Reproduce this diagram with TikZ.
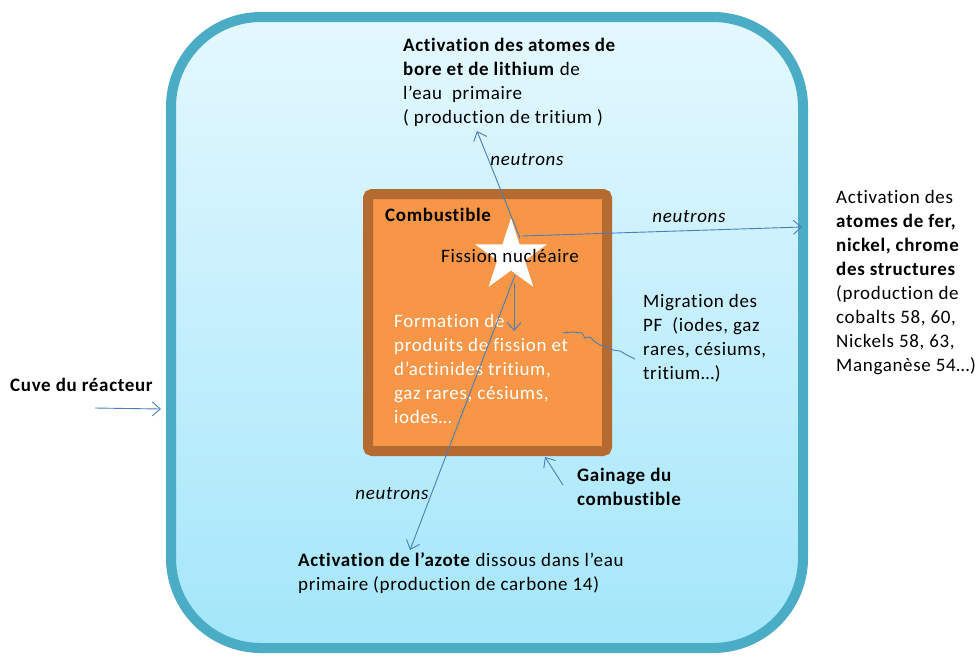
\documentclass[tikz,border=0pt]{standalone}
\usepackage{fontspec}
\setmainfont{Carlito}[Ligatures=NoCommon,LetterSpace=3.5]
\usetikzlibrary{arrows.meta,shapes.geometric}
\definecolor{cuveline}{HTML}{4BACC6}
\definecolor{cuvetop}{HTML}{E4F8FE}
\definecolor{cuvebot}{HTML}{A3E6FA}
\definecolor{gainecol}{HTML}{B46A30}
\definecolor{combust}{HTML}{F79646}
\definecolor{raycol}{HTML}{4A7EBB}
\tikzstyle{txt} = [align=left,anchor=north west,inner sep=0pt,font=\fontsize{19}{24}\selectfont]
\tikzstyle{txtb} = [txt,font=\fontsize{19}{24}\selectfont\bfseries]
\tikzstyle{neutron} = [inner sep=0pt,font=\fontsize{19}{24}\selectfont\itshape]
\tikzstyle{flux} = [draw=raycol,line width=0.9pt,-{Straight Barb[length=8pt,width=14pt]}]

\begin{document}
\begin{tikzpicture}[x=1pt,y=-1pt]
\useasboundingbox (0,0) rectangle (976,657);
% cuve du reacteur
\fill[black!30,opacity=0.5,rounded corners=90pt] (174,21) rectangle (806,652);
\draw[cuveline,line width=10pt,top color=cuvetop,bottom color=cuvebot,rounded corners=90pt] (171,17) rectangle (803,648);
% gaine et combustible
\node (gaine) [draw=gainecol,fill=combust,line width=10pt,rounded corners=4pt,minimum width=239pt,minimum height=257pt,inner sep=0pt,anchor=north west] at (363,189) {};
\node (star) [star,star points=5,star point ratio=2.618,fill=white,minimum size=76pt,inner sep=0pt] at (511,256) {};
\node (fission) [inner sep=0pt,font=\fontsize{19}{24}\selectfont] at (510,256) {Fission nucléaire};
\node (combustible) [txtb] at (385,208) {Combustible};
\node (formation) [txt,text=white] at (394,314) {Formation de\\produits de fission et\\d’actinides tritium,\\gaz rares, césiums,\\iodes…};
% textes
\node (bore) [txt] at (403,38) {\textbf{Activation des atomes de}\\\textbf{bore et de lithium} de\\l’eau\ \ primaire\\( production de tritium )};
\node (fer) [txt] at (836,190) {Activation des\\\textbf{atomes de fer,}\\\textbf{nickel, chrome}\\\textbf{des structures}\\(production de\\cobalts 58, 60,\\Nickels 58, 63,\\Manganèse 54…)};
\node (cuve) [txtb] at (10,378) {Cuve du réacteur};
\node (migration) [txt] at (643,294) {Migration des\\PF\ \ (iodes, gaz\\rares, césiums,\\tritium…)};
\node (gainage) [txtb] at (577,468) {Gainage du\\combustible};
\node (azote) [txt] at (298,552) {\textbf{Activation de l’azote} dissous dans l’eau\\primaire (production de carbone 14)};
\node (n1) [neutron] at (527,160) {neutrons};
\node (n2) [neutron] at (689,217) {neutrons};
\node (n3) [neutron] at (392,494) {neutrons};
% fleches
\coordinate (upA) at (520,238);
\coordinate (upB) at (477,131);
\coordinate (rightA) at (522,236);
\coordinate (rightB) at (802,227);
\coordinate (downA) at (515,275);
\coordinate (downB) at (410,550);
\coordinate (pfA) at (514,283);
\coordinate (pfB) at (514,331);
\coordinate (cuveA) at (95,408);
\coordinate (cuveB) at (161,409);
\coordinate (gainA) at (563,485);
\coordinate (gainB) at (545,457);
\draw [flux] (upA) -- (upB);
\draw [flux] (rightA) -- (rightB);
\draw [flux] (downA) -- (downB);
\draw [flux] (pfA) -- (pfB);
\draw [flux] (cuveA) -- (cuveB);
\draw [flux] (gainA) -- (gainB);
\draw [raycol,line width=0.9pt] (563,333) -- (573,332) -- (582,333) -- (585,338) -- (590,337) -- (595,342) -- (600,345) -- (608,347) -- (613,350) -- (620,351) -- (627,355) -- (635,359);
\end{tikzpicture}
\end{document}
